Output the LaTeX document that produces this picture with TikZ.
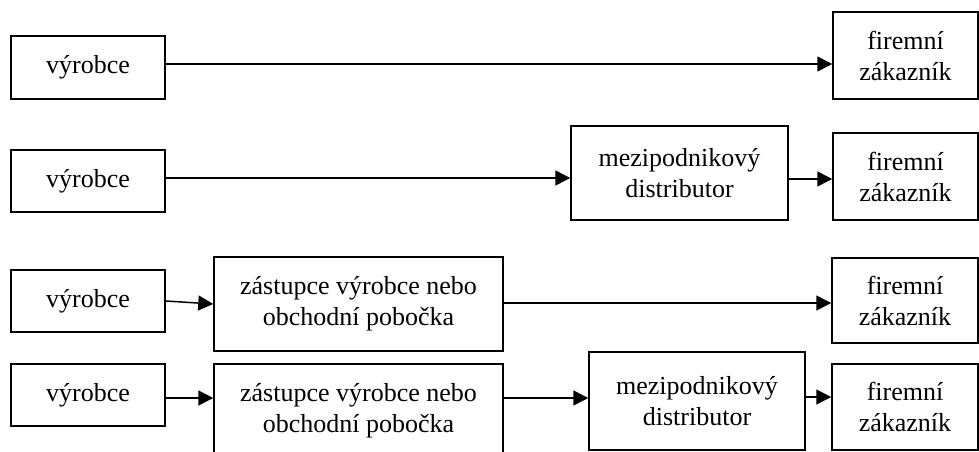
\documentclass[tikz,border=0pt]{standalone}
\usepackage{fontspec}
\setmainfont{Liberation Serif}
\usetikzlibrary{arrows.meta}
\tikzset{
  box/.style={draw, line width=1.5pt, inner sep=0pt, align=center,
    font=\fontsize{26}{31}\selectfont},
  arr/.style={line width=1.5pt, -{Triangle[length=15pt,width=15pt]}}
}
\begin{document}
\begin{tikzpicture}[x=1pt,y=-1pt]
\useasboundingbox (0,0) rectangle (979,452);
\clip (0,0) rectangle (979,452);
% row 1
\node[box, minimum width=154pt, minimum height=63pt] (v1) at (88,67.5) {výrobce};
\node[box, minimum width=145pt, minimum height=87pt] (f1) at (905.5,55.5) {firemní\\zákazník};
\draw[arr] ([yshift=3.5pt]v1.east) -- ([yshift=-8.5pt]f1.west);
% row 2
\node[box, minimum width=154pt, minimum height=62pt] (v2) at (88,181) {výrobce};
\node[box, minimum width=217pt, minimum height=94pt] (m2) at (679.5,173) {mezipodnikový\\distributor};
\node[box, minimum width=145pt, minimum height=87pt] (f2) at (905.5,176.5) {firemní\\zákazník};
\draw[arr] ([yshift=3pt]v2.east) -- ([yshift=-5pt]m2.west);
\draw[arr] ([yshift=-6pt]m2.east) -- ([yshift=-2.5pt]f2.west);
% row 3
\node[box, minimum width=154pt, minimum height=62pt] (v3) at (88,301) {výrobce};
\node[box, minimum width=289pt, minimum height=94pt] (z3) at (358.5,304) {zástupce výrobce nebo\\obchodní pobočka};
\node[box, minimum width=146pt, minimum height=85pt] (f3) at (905,300.5) {firemní\\zákazník};
\draw[arr] (v3.east) -- (z3.west);
\draw[arr] ([yshift=1pt]z3.east) -- ([yshift=-2.5pt]f3.west);
% row 4
\node[box, minimum width=154pt, minimum height=62pt] (v4) at (88,395) {výrobce};
\node[box, minimum width=289pt, minimum height=93pt] (z4) at (358.5,410.5) {zástupce výrobce nebo\\obchodní pobočka};
\node[box, minimum width=216pt, minimum height=98pt] (m4) at (697,401) {mezipodnikový\\distributor};
\node[box, minimum width=146pt, minimum height=86pt] (f4) at (905,407) {firemní\\zákazník};
\draw[arr] ([yshift=-3pt]v4.east) -- ([yshift=12.5pt]z4.west);
\draw[arr] ([yshift=12.5pt]z4.east) -- ([yshift=3pt]m4.west);
\draw[arr] ([yshift=4pt]m4.east) -- ([yshift=10pt]f4.west);
\end{tikzpicture}
\end{document}
